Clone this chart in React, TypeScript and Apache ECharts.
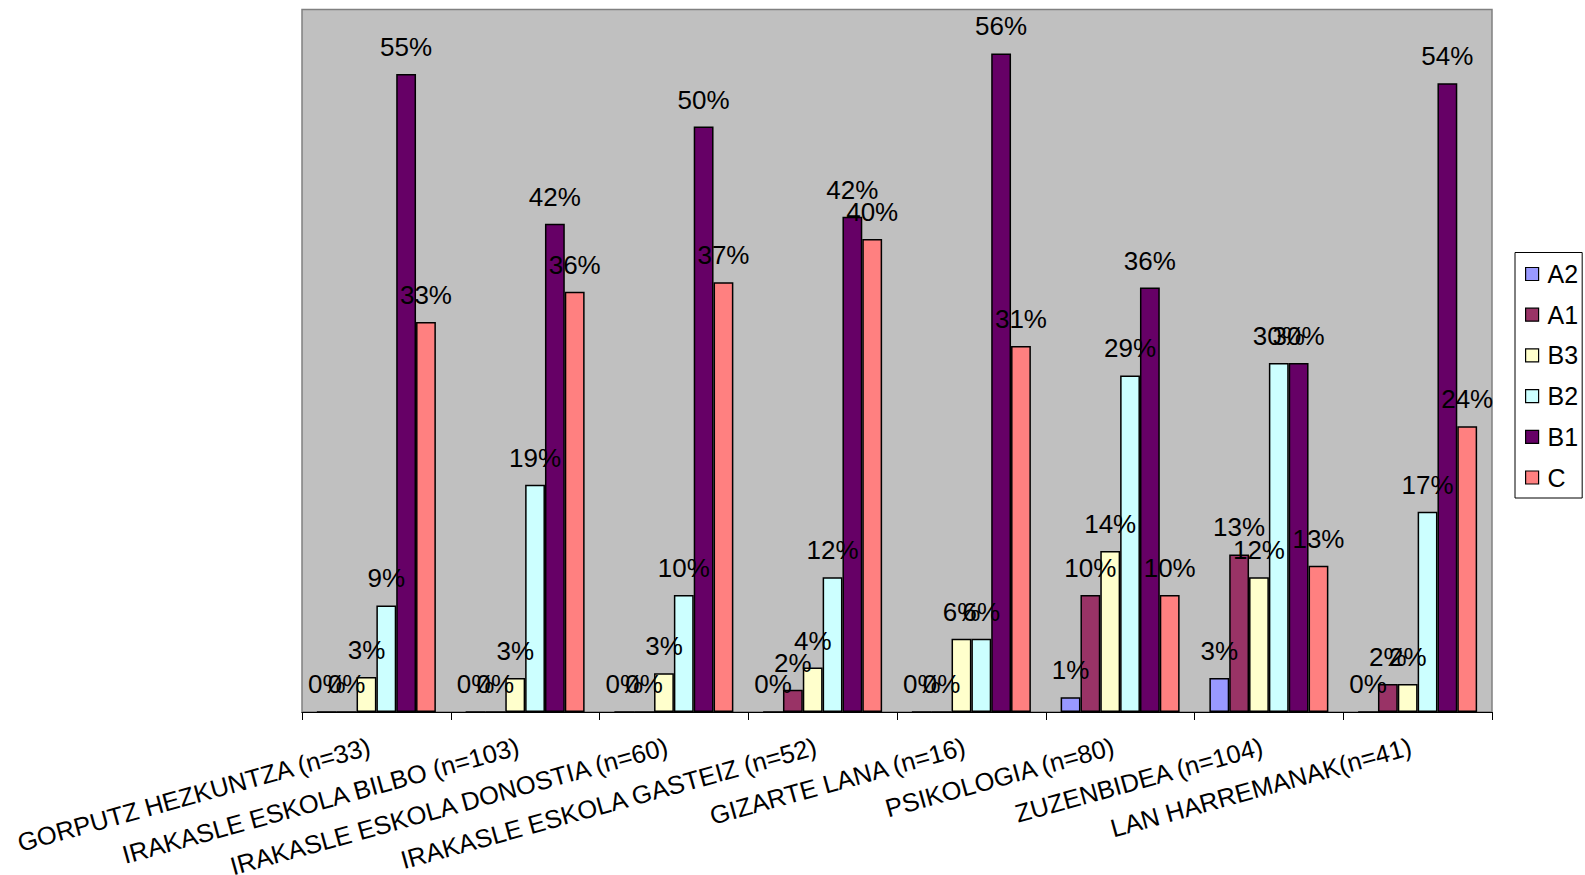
import React, { useEffect, useRef } from "react";
import * as echarts from "echarts";

const categories = [
  "GORPUTZ HEZKUNTZA (n=33)",
  "IRAKASLE ESKOLA BILBO (n=103)",
  "IRAKASLE ESKOLA DONOSTIA (n=60)",
  "IRAKASLE ESKOLA GASTEIZ (n=52)",
  "GIZARTE LANA (n=16)",
  "PSIKOLOGIA (n=80)",
  "ZUZENBIDEA (n=104)",
  "LAN HARREMANAK(n=41)",
];

const seriesNames = ["A2", "A1", "B3", "B2", "B1", "C"];
const seriesColors = ["#9999FF", "#993366", "#FFFFCC", "#CCFFFF", "#660066", "#FF8080"];

const valuesA2 = [0, 0, 0, 0, 0, 1.25, 2.9, 0];
const valuesA1 = [0, 0, 0, 1.9, 0, 10.0, 13.46, 2.4];
const valuesB3 = [3.0, 2.9, 3.3, 3.8, 6.25, 13.75, 11.5, 2.4];
const valuesB2 = [9.1, 19.4, 10.0, 11.5, 6.25, 28.75, 29.8, 17.1];
const valuesB1 = [54.5, 41.7, 50.0, 42.3, 56.25, 36.25, 29.8, 53.7];
const valuesC = [33.3, 35.9, 36.7, 40.4, 31.25, 10.0, 12.5, 24.4];

const seriesValues = [valuesA2, valuesA1, valuesB3, valuesB2, valuesB1, valuesC];

const FONT = "'Liberation Sans', Arial, sans-serif";

export default function App() {
  const ref = useRef<HTMLDivElement>(null);

  useEffect(() => {
    if (!ref.current) return;
    const chart = echarts.init(ref.current, undefined, { renderer: "svg" });
    chart.setOption({
      animation: false,
      backgroundColor: "#FFFFFF",
      textStyle: { fontFamily: FONT },
      grid: {
        left: 302,
        right: 93,
        top: 9.5,
        bottom: 163,
        outerBoundsMode: "none",
        containLabel: false,
        show: true,
        backgroundColor: "#C0C0C0",
        borderColor: "#808080",
        borderWidth: 1.5,
      },
      legend: {
        orient: "vertical",
        left: 1515,
        top: 252.5,
        padding: [9, 4, 8, 10],
        itemGap: 15.7,
        itemWidth: 13,
        itemHeight: 13,
        backgroundColor: "#FFFFFF",
        borderColor: "#000000",
        borderWidth: 1,
        icon: "rect",
        data: seriesNames,
        itemStyle: { borderColor: "#000000", borderWidth: 1.2 },
        textStyle: {
          fontFamily: FONT,
          fontSize: 25,
          lineHeight: 24,
          color: "#000000",
          padding: [0, 0, 0, 4],
        },
      },
      xAxis: {
        type: "category",
        data: categories,
        axisLine: { show: true, lineStyle: { color: "#000000", width: 1.2 } },
        axisTick: { show: true, length: 8, lineStyle: { color: "#000000", width: 1 } },
        axisLabel: {
          interval: 0,
          rotate: 15.5,
          margin: 32,
          padding: [0, 7, 0, 0],
          fontFamily: FONT,
          fontSize: 25.5,
          color: "#000000",
        },
        splitLine: { show: false },
      },
      yAxis: {
        type: "value",
        min: 0,
        max: 60,
        show: false,
        splitLine: { show: false },
      },
      series: seriesNames.map((name, i) => ({
        name,
        type: "bar",
        data: seriesValues[i],
        barGap: "0%",
        barCategoryGap: "20%",
        itemStyle: {
          color: seriesColors[i],
          borderColor: "#000000",
          borderWidth: 1.5,
        },
        label: {
          show: true,
          position: "top",
          distance: 15,
          fontFamily: FONT,
          fontSize: 26,
          lineHeight: 24,
          color: "#000000",
          formatter: (p: any) => Math.round(p.value) + "%",
        },
        labelLayout: { hideOverlap: false },
      })),
    });
    return () => chart.dispose();
  }, []);

  return (
    <div
      ref={ref}
      style={{ position: "absolute", left: 0, top: 0, width: 1585, height: 875 }}
    />
  );
}
